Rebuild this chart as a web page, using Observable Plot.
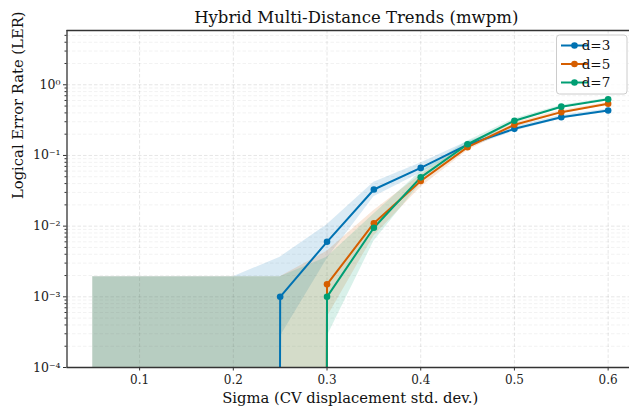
<!DOCTYPE html>
<html>
<head>
<meta charset="utf-8">
<script src="https://cdn.jsdelivr.net/npm/d3@7"></script>
<script src="https://cdn.jsdelivr.net/npm/@observablehq/plot@0.6"></script>
<style>
  html, body { margin: 0; padding: 0; background: white; }
  #chart { width: 629px; height: 407px; }
</style>
</head>
<body>
<div id="chart"></div>
<script>
// ---- data ----
const sigma = [0.05, 0.10, 0.15, 0.20, 0.25, 0.30, 0.35, 0.40, 0.45, 0.50, 0.55, 0.60];
const seriesNames = ["d=3", "d=5", "d=7"];
const seriesColors = ["#0072B2", "#D55E00", "#009E73"];

const ler_d3 = [0, 0, 0, 0, 0.001, 0.006, 0.033, 0.0667, 0.142, 0.238, 0.348, 0.433];
const lo_d3  = [0, 0, 0, 0, 0.000273, 0.00344, 0.0260, 0.0566, 0.1274, 0.2198, 0.3274, 0.4114];
const hi_d3  = [0.00192, 0.00192, 0.00192, 0.00192, 0.00364, 0.01046, 0.0418, 0.0785, 0.1580, 0.2571, 0.3692, 0.4548];

const ler_d5 = [0, 0, 0, 0, 0, 0.0015, 0.011, 0.0435, 0.131, 0.272, 0.410, 0.538];
const lo_d5  = [0, 0, 0, 0, 0, 0.00051, 0.00728, 0.0354, 0.1169, 0.2530, 0.3886, 0.5161];
const hi_d5  = [0.00192, 0.00192, 0.00192, 0.00192, 0.00192, 0.0044, 0.0166, 0.0533, 0.1465, 0.2919, 0.4317, 0.5598];

const ler_d7 = [0, 0, 0, 0, 0, 0.001, 0.0095, 0.049, 0.144, 0.310, 0.490, 0.625];
const lo_d7  = [0, 0, 0, 0, 0, 0.000273, 0.00609, 0.0404, 0.1293, 0.2901, 0.4681, 0.6036];
const hi_d7  = [0.00192, 0.00192, 0.00192, 0.00192, 0.00192, 0.00364, 0.01479, 0.0594, 0.1601, 0.3306, 0.5119, 0.6460];

const xTicks = [0.1, 0.2, 0.3, 0.4, 0.5, 0.6];
const yTicks = [1e-4, 1e-3, 1e-2, 1e-1, 1e0];

const titleText = "Hybrid Multi-Distance Trends (mwpm)";
const xLabel = "Sigma (CV displacement std. dev.)";
const yLabel = "Logical Error Rate (LER)";

// ---- build table ----
const lerArr = [ler_d3, ler_d5, ler_d7];
const loArr = [lo_d3, lo_d5, lo_d7];
const hiArr = [hi_d3, hi_d5, hi_d7];
const floor = v => (v > 0 ? v : 1e-300); // log scale: zero is clipped to the bottom like matplotlib
const rows = [];
seriesNames.forEach((s, k) => {
  sigma.forEach((x, i) => {
    rows.push({series: s, sigma: x, ler: lerArr[k][i], lo: loArr[k][i], hi: hiArr[k][i]});
  });
});

const yMinor = [];
for (let e = -4; e <= 0; e++) for (let m = 2; m <= 9; m++) {
  const v = m * Math.pow(10, e);
  if (v <= 5.86) yMinor.push(v);
}
const sup = {"0":"⁰","1":"¹","2":"²","3":"³","4":"⁴","5":"⁵","6":"⁶","7":"⁷","8":"⁸","9":"⁹","-":"⁻"};
const fmtPow = v => "10" + String(Math.round(Math.log10(v))).split("").map(c => sup[c]).join("");

const X0 = 0.0225, X1 = 0.6228, Y0 = 1e-4, Y1 = 5.86;

const svg = Plot.plot({
  width: 629,
  height: 407,
  marginLeft: 66.5,
  marginRight: 0,
  marginTop: 30,
  marginBottom: 40,
  style: {fontFamily: "'DejaVu Serif', serif", fontSize: "12px", background: "white", color: "#222"},
  x: {domain: [X0, X1]},
  y: {type: "log", domain: [Y0, Y1]},
  color: {domain: seriesNames, range: seriesColors},
  marks: [
    // grids
    Plot.gridY(yMinor, {stroke: "#000", strokeOpacity: 0.07, strokeDasharray: "3.5,2", strokeWidth: 0.8}),
    Plot.gridY(yTicks, {stroke: "#000", strokeOpacity: 0.13, strokeDasharray: "3.5,2", strokeWidth: 0.8}),
    Plot.gridX(xTicks, {stroke: "#000", strokeOpacity: 0.13, strokeDasharray: "3.5,2", strokeWidth: 0.8}),
    // confidence bands
    Plot.areaY(rows, {x: "sigma", y1: d => floor(d.lo), y2: "hi", z: "series", fill: "series", fillOpacity: 0.15, clip: true}),
    // lines and markers
    Plot.line(rows, {x: "sigma", y: d => floor(d.ler), z: "series", stroke: "series", strokeWidth: 2, clip: true}),
    Plot.dot(rows.filter(d => d.ler > 0), {x: "sigma", y: "ler", fill: "series", r: 3.3, stroke: null, clip: true}),
    // spines
    Plot.ruleY([Y1], {stroke: "#333", strokeWidth: 1.3}),
    Plot.ruleY([Y0], {stroke: "#333", strokeWidth: 1.3}),
    Plot.ruleX([X0], {stroke: "#333", strokeWidth: 1.3}),
    // axes
    Plot.axisX({ticks: xTicks, tickFormat: d => d.toFixed(1), tickSize: 3.5, tickPadding: 4, fontSize: 12, label: null, stroke: "#333"}),
    Plot.axisY({ticks: yTicks, tickFormat: fmtPow, tickSize: 3.5, tickPadding: 3, fontSize: 12.5, label: null, stroke: "#333"}),
    Plot.axisY({ticks: yMinor, tickFormat: () => "", tickSize: 2, label: null, stroke: "#333"}),
    // labels
    Plot.text([titleText], {frameAnchor: "top", lineAnchor: "middle", dx: 8, dy: -13, text: d => d, fontSize: 16.5, fill: "#111"}),
    Plot.text([xLabel], {frameAnchor: "bottom", lineAnchor: "middle", dx: 2, dy: 31, text: d => d, fontSize: 14.75, fill: "#111"}),
    Plot.text([yLabel], {frameAnchor: "left", lineAnchor: "middle", dx: -48.5, rotate: -90, text: d => d, fontSize: 14.75, fill: "#111"})
  ]
});

// ---- legend (drawn into the same svg) ----
const g = d3.select(svg).append("g").attr("font-family", "'DejaVu Serif', serif").attr("font-size", 13.5);
g.append("rect").attr("x", 556.5).attr("y", 35).attr("width", 70.5).attr("height", 59)
  .attr("rx", 3).attr("fill", "white").attr("fill-opacity", 0.85).attr("stroke", "#ccc").attr("stroke-width", 1);
seriesNames.forEach((s, i) => {
  const cy = 45.5 + i * 18.5;
  g.append("line").attr("x1", 561).attr("x2", 588).attr("y1", cy).attr("y2", cy)
    .attr("stroke", seriesColors[i]).attr("stroke-width", 2);
  g.append("circle").attr("cx", 574.5).attr("cy", cy).attr("r", 3.3).attr("fill", seriesColors[i]);
  g.append("text").attr("x", 596).attr("y", cy).attr("dy", "0.35em").attr("fill", "#111").text(s);
});

document.getElementById("chart").appendChild(svg);
</script>
</body>
</html>
